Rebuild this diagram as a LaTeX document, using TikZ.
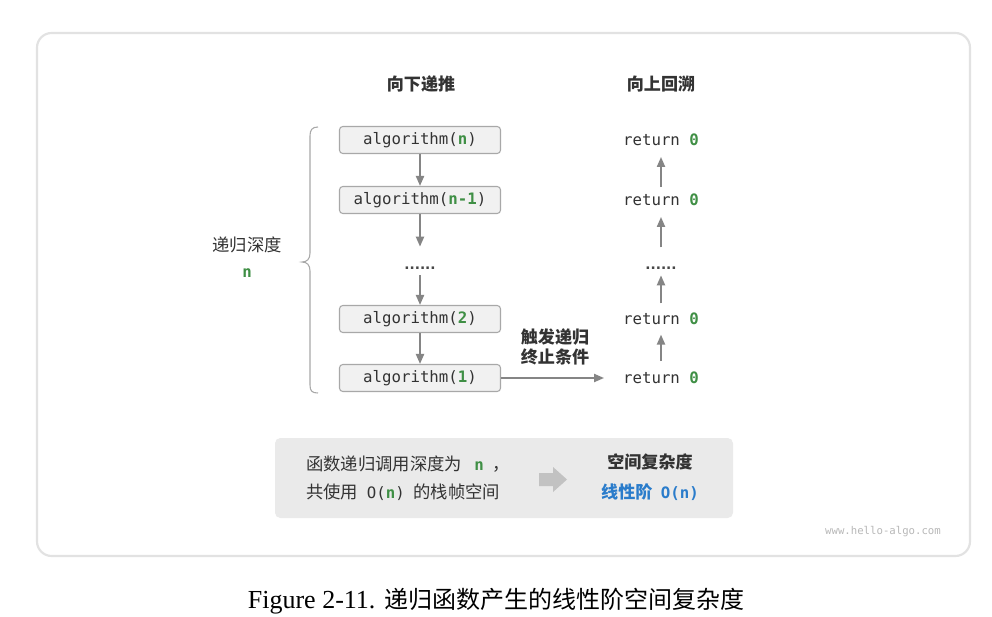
\documentclass[tikz,border=0pt]{standalone}
\usepackage{fontspec}
\setmainfont{Liberation Serif}
\setmonofont{DejaVu Sans Mono}
\newfontfamily\cjk{Noto Sans CJK SC}
\newfontfamily\dotfont{DejaVu Sans}
\usetikzlibrary{arrows.meta}

\definecolor{ink}{HTML}{333333}
\definecolor{codegreen}{HTML}{3F8F45}
\definecolor{linkblue}{HTML}{2A7CCB}
\definecolor{boxfill}{HTML}{F1F1F1}
\definecolor{boxline}{HTML}{A8A8A8}
\definecolor{arrowgray}{HTML}{858585}
\definecolor{panelline}{HTML}{E2E2E2}
\definecolor{notefill}{HTML}{EAEAEA}
\definecolor{blockarrow}{HTML}{C2C2C2}

\newcommand{\gn}[1]{\textcolor{codegreen}{\bfseries #1}}

\tikzset{
  codefont/.style={font=\fontsize{11.8}{14}\selectfont\ttfamily},
  callbox/.style={codefont, draw=boxline, fill=boxfill, text=ink,
    rounded corners=2.5pt, line width=0.8pt,
    minimum width=120.75pt, minimum height=20.25pt, inner sep=0pt},
  retnode/.style={codefont, text=ink, inner sep=0pt,
    minimum width=57pt, minimum height=19pt},
  dotsnode/.style={font=\fontsize{10.3}{12}\selectfont\dotfont\bfseries, text=ink!90, inner sep=0pt},
  flow/.style={draw=arrowgray, line width=1.5pt,
    -{Triangle[length=7.5pt,width=6pt]}},
  heading/.style={font=\fontsize{12.8}{15}\selectfont\cjk\bfseries, text=ink},
  note/.style={font=\fontsize{13}{16}\selectfont\cjk, text=ink, inner sep=0pt},
}

\begin{document}
\begin{tikzpicture}[x=0.75pt,y=-0.75pt]
\useasboundingbox (0,0) rectangle (992,617);
\fill[white] (0,0) rectangle (992,617);

% outer panel
\draw[panelline, line width=1.6pt, fill=white, rounded corners=11pt]
  (37,33) rectangle (970,556);

% column headings
\node[heading] (hdown) at (421,84) {向下递推};
\node[heading] (hup) at (661,84) {向上回溯};

% recursive calls
\node[callbox] (c1) at (420,140) {algorithm(\gn{n})};
\node[callbox] (c2) at (420,200) {algorithm(\gn{n-1})};
\node[dotsnode] (d1) at (420,268) {......};
\node[callbox] (c4) at (420,319) {algorithm(\gn{2})};
\node[callbox] (c5) at (420,378) {algorithm(\gn{1})};

\draw[flow] (c1) -- (c2);
\draw[flow] (c2) -- ([yshift=16pt]d1.center);
\draw[flow] ([yshift=-5.5pt]d1.center) -- (c4);
\draw[flow] (c4) -- (c5);

% returns
\node[retnode] (r1) at (661,140) {return \gn{0}};
\node[retnode] (r2) at (661,200) {return \gn{0}};
\node[dotsnode] (d2) at (661,268) {......};
\node[retnode] (r4) at (661,319) {return \gn{0}};
\node[retnode] (r5) at (661,378) {return \gn{0}};

\draw[flow] (r2) -- ([yshift=-3pt]r1.south);
\draw[flow] ([yshift=15.5pt]d2.center) -- ([yshift=-3pt]r2.south);
\draw[flow] ([yshift=2pt]r4.north) -- ([yshift=-5.5pt]d2.center);
\draw[flow] ([yshift=3pt]r5.north) -- ([yshift=-2pt]r4.south);

% base case
\draw[flow] (c5.east) -- ([xshift=-14pt]r5.west);
\node[heading, align=center, inner sep=0pt, font=\fontsize{12.8}{14.5}\selectfont\cjk\bfseries]
  (base) at (555,347) {触发递归\\终止条件};

% depth brace
\draw[boxline, line width=0.8pt]
  (318,127) .. controls (312,127) and (310,130) .. (310,136)
  -- (310,253) .. controls (310,259) and (307,262) .. (302,262)
  .. controls (307,262) and (310,265) .. (310,271)
  -- (310,385) .. controls (310,391) and (312,393) .. (318,393);
\node[note] (depth) at (247,245) {递归深度};
\node[codefont, inner sep=0pt] (depthn) at (247,273) {\gn{n}};

% summary panel
\fill[notefill, rounded corners=4pt] (275,438) rectangle (733,518);
\node[note, anchor=west] (l1) at (306,464)
  {函数递归调用深度为\hspace{0.7em}{\fontsize{11.8}{14}\selectfont\ttfamily\gn{n}}\hspace{0.5em}，};
\node[note, anchor=west] (l2) at (306,492)
  {共使用\hspace{0.5em}{\fontsize{11.8}{14}\selectfont\ttfamily O(\gn{n})}\hspace{0.5em}的栈帧空间};
\fill[blockarrow] (539,473) -- (553,473) -- (553,467) -- (567,479.5)
  -- (553,492) -- (553,486) -- (539,486) -- cycle;
\node[heading, inner sep=0pt] (sc) at (650,462) {空间复杂度};
\node[heading, inner sep=0pt, text=linkblue] (lin) at (650,492)
  {线性阶\hspace{0.5em}{\fontsize{11.8}{14}\selectfont\ttfamily\bfseries O(n)}};

% site mark
\node[font=\fontsize{8}{10}\selectfont\ttfamily, text=black!28] (site) at (883,532) {www.hello-algo.com};

% caption
\node[inner sep=0pt] (cap) at (496,601)
  {\fontsize{19.5}{22}\selectfont Figure 2-11. {\fontsize{18}{22}\selectfont\cjk 递归函数产生的线性阶空间复杂度}};
\end{tikzpicture}
\end{document}
